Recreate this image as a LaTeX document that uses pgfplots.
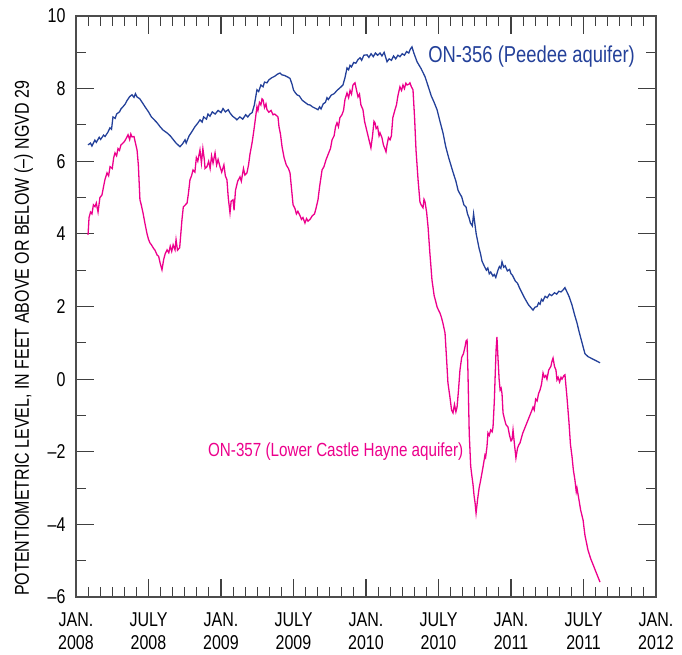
\documentclass[border=0pt]{standalone}
\usepackage{fontspec}
\setmainfont{Liberation Sans}[FakeStretch=0.8]
\usepackage{pgfplots}
\pgfplotsset{compat=1.18}
\usetikzlibrary{calc}
\definecolor{wellblue}{RGB}{35,64,153}
\definecolor{wellpink}{RGB}{236,0,140}
\begin{document}
\begin{tikzpicture}
\begin{axis}[
    scale only axis,
    width=580pt, height=581pt,
    xmin=2008, xmax=2012,
    ymin=-6, ymax=10,
    xtick={2008,2008.5,2009,2009.5,2010,2010.5,2011,2011.5,2012},
    xticklabels={{JAN.\\2008},{JULY\\2008},{JAN.\\2009},{JULY\\2009},{JAN.\\2010},{JULY\\2010},{JAN.\\2011},{JULY\\2011},{JAN.\\2012}},
    minor x tick num=5,
    ytick={-6,-4,...,10},
    yticklabels={–6,–4,–2,0,2,4,6,8,10},
    minor y tick num=1,
    tick align=inside,
    tick pos=both,
    ticklabel pos=left,
    major tick length=18pt,
    minor tick length=10pt,
    every tick/.style={black!75, line width=1.1pt},
    axis line style={black!70, line width=1.3pt},
    xticklabel style={align=center, font=\fontsize{20}{23}\selectfont, yshift=-12pt},
    yticklabel style={font=\fontsize{20}{24}\selectfont, xshift=-7pt},
    ylabel={POTENTIOMETRIC LEVEL, IN FEET ABOVE OR BELOW (–) NGVD 29},
    ylabel style={font=\fontsize{20}{24}\selectfont, at={(axis description cs:-0.068,0.445)}, anchor=south},
]
% ON-356 Peedee aquifer
\addplot[wellblue, line width=1.3pt] table {
2008.083 6.45
2008.10 6.50
2008.11 6.42
2008.13 6.58
2008.14 6.52
2008.16 6.66
2008.17 6.60
2008.19 6.72
2008.20 6.68
2008.22 6.80
2008.234 6.92
2008.245 6.88
2008.255 7.22
2008.27 7.18
2008.28 7.30
2008.30 7.36
2008.31 7.44
2008.324 7.50
2008.34 7.58
2008.35 7.66
2008.37 7.78
2008.386 7.83
2008.40 7.76
2008.41 7.86
2008.421 7.77
2008.44 7.72
2008.46 7.60
2008.476 7.50
2008.50 7.36
2008.52 7.22
2008.54 7.14
2008.559 7.06
2008.58 6.95
2008.60 6.86
2008.628 6.78
2008.65 6.70
2008.67 6.60
2008.69 6.50
2008.717 6.40
2008.735 6.48
2008.752 6.59
2008.76 6.50
2008.78 6.70
2008.80 6.82
2008.82 6.95
2008.84 7.05
2008.855 7.14
2008.87 7.08
2008.88 7.22
2008.90 7.16
2008.91 7.30
2008.924 7.24
2008.94 7.36
2008.96 7.30
2008.98 7.40
2009.00 7.34
2009.014 7.45
2009.03 7.36
2009.05 7.42
2009.062 7.33
2009.08 7.24
2009.10 7.18
2009.110 7.14
2009.13 7.22
2009.15 7.16
2009.17 7.28
2009.185 7.22
2009.20 7.30
2009.215 7.34
2009.23 7.55
2009.248 7.97
2009.26 7.92
2009.275 8.10
2009.29 8.05
2009.30 8.18
2009.317 8.16
2009.33 8.24
2009.35 8.30
2009.37 8.34
2009.39 8.40
2009.407 8.43
2009.42 8.38
2009.44 8.36
2009.46 8.32
2009.476 8.28
2009.49 8.12
2009.50 7.96
2009.51 7.90
2009.524 7.83
2009.54 7.80
2009.56 7.68
2009.58 7.62
2009.60 7.56
2009.614 7.55
2009.63 7.50
2009.65 7.46
2009.669 7.42
2009.68 7.50
2009.69 7.44
2009.705 7.58
2009.72 7.62
2009.731 7.75
2009.74 7.70
2009.76 7.82
2009.78 7.86
2009.80 7.95
2009.82 8.02
2009.841 8.10
2009.855 8.30
2009.869 8.57
2009.88 8.52
2009.89 8.64
2009.90 8.60
2009.915 8.72
2009.93 8.70
2009.945 8.80
2009.959 8.85
2009.97 8.78
2009.985 8.92
2010.007 8.93
2010.02 8.86
2010.035 8.96
2010.05 8.88
2010.065 8.98
2010.08 8.92
2010.097 8.98
2010.11 8.90
2010.125 9.00
2010.145 8.74
2010.16 8.82
2010.175 8.78
2010.19 8.90
2010.205 8.82
2010.22 8.92
2010.234 8.88
2010.25 8.96
2010.265 8.92
2010.28 9.02
2010.295 8.98
2010.305 9.08
2010.317 9.15
2010.33 8.98
2010.352 8.74
2010.38 8.55
2010.407 8.33
2010.43 8.05
2010.45 7.80
2010.47 7.62
2010.490 7.42
2010.51 7.10
2010.531 6.78
2010.55 6.40
2010.57 6.10
2010.60 5.70
2010.62 5.45
2010.635 5.20
2010.648 5.10
2010.66 5.02
2010.675 4.80
2010.69 4.74
2010.70 4.55
2010.71 4.45
2010.72 4.30
2010.733 4.22
2010.742 4.55
2010.75 4.30
2010.76 4.00
2010.78 3.60
2010.79 3.45
2010.80 3.25
2010.815 3.12
2010.83 3.00
2010.84 3.06
2010.85 2.90
2010.86 2.95
2010.875 2.84
2010.885 2.88
2010.895 2.80
2010.91 3.00
2010.92 3.10
2010.93 3.05
2010.938 3.23
2010.95 3.08
2010.96 3.12
2010.975 2.98
2010.99 3.02
2011.00 2.90
2011.01 2.86
2011.03 2.70
2011.045 2.64
2011.06 2.50
2011.09 2.26
2011.12 2.05
2011.152 1.90
2011.165 1.98
2011.18 2.00
2011.19 2.10
2011.20 2.06
2011.21 2.20
2011.22 2.15
2011.235 2.28
2011.25 2.24
2011.265 2.34
2011.28 2.30
2011.30 2.38
2011.315 2.34
2011.33 2.42
2011.345 2.40
2011.36 2.46
2011.372 2.52
2011.386 2.40
2011.40 2.28
2011.42 2.05
2011.44 1.75
2011.455 1.55
2011.47 1.30
2011.49 1.00
2011.50 0.85
2011.51 0.70
2011.531 0.62
2011.614 0.45
};
% ON-357 Lower Castle Hayne aquifer
\addplot[wellpink, line width=1.3pt] table {
2008.083 3.97
2008.090 4.45
2008.100 4.60
2008.110 4.55
2008.120 4.80
2008.131 4.75
2008.140 4.85
2008.152 4.60
2008.165 5.00
2008.179 5.07
2008.19 5.30
2008.20 5.50
2008.214 5.68
2008.225 5.60
2008.235 5.85
2008.25 5.80
2008.26 6.10
2008.269 6.23
2008.28 6.15
2008.29 6.35
2008.30 6.30
2008.31 6.45
2008.324 6.50
2008.335 6.55
2008.345 6.62
2008.359 6.73
2008.37 6.60
2008.378 6.75
2008.386 6.67
2008.40 6.68
2008.41 6.50
2008.421 6.31
2008.43 5.90
2008.441 4.94
2008.45 4.80
2008.462 4.58
2008.475 4.30
2008.49 4.00
2008.50 3.85
2008.510 3.75
2008.52 3.70
2008.535 3.60
2008.545 3.55
2008.559 3.42
2008.57 3.38
2008.58 3.20
2008.593 3.01
2008.605 3.30
2008.615 3.45
2008.628 3.56
2008.64 3.48
2008.65 3.66
2008.66 3.52
2008.67 3.70
2008.683 3.56
2008.69 3.84
2008.70 3.55
2008.715 3.62
2008.731 4.40
2008.74 4.74
2008.766 4.85
2008.775 5.10
2008.786 5.49
2008.797 5.60
2008.807 5.76
2008.82 5.70
2008.83 6.10
2008.84 6.00
2008.855 6.31
2008.865 5.95
2008.875 6.35
2008.885 6.05
2008.89 5.80
2008.903 5.85
2008.915 6.00
2008.925 5.80
2008.935 6.15
2008.945 5.95
2008.959 6.23
2008.97 5.90
2008.98 6.05
2008.993 5.85
2009.005 5.70
2009.02 5.90
2009.03 5.60
2009.041 5.49
2009.05 5.00
2009.062 4.58
2009.07 4.90
2009.083 4.94
2009.09 4.65
2009.10 5.20
2009.115 5.45
2009.131 5.57
2009.14 5.45
2009.155 5.80
2009.165 5.62
2009.179 5.68
2009.19 5.90
2009.20 6.20
2009.214 6.50
2009.225 6.80
2009.235 7.10
2009.248 7.50
2009.255 7.40
2009.265 7.62
2009.275 7.55
2009.283 7.72
2009.290 7.69
2009.30 7.48
2009.31 7.58
2009.317 7.42
2009.33 7.35
2009.345 7.40
2009.359 7.28
2009.37 7.30
2009.385 7.25
2009.393 7.22
2009.40 6.95
2009.41 6.75
2009.421 6.40
2009.435 6.10
2009.45 5.90
2009.465 5.80
2009.476 5.68
2009.485 5.30
2009.497 4.80
2009.51 4.70
2009.52 4.55
2009.53 4.62
2009.545 4.50
2009.555 4.40
2009.565 4.45
2009.579 4.30
2009.59 4.42
2009.60 4.35
2009.614 4.40
2009.63 4.50
2009.645 4.55
2009.655 4.70
2009.669 4.94
2009.68 5.30
2009.697 5.76
2009.71 5.85
2009.725 6.05
2009.74 6.20
2009.755 6.35
2009.766 6.59
2009.78 6.70
2009.79 6.95
2009.80 7.06
2009.81 6.95
2009.82 7.20
2009.834 7.28
2009.845 7.40
2009.855 7.70
2009.869 7.88
2009.88 7.75
2009.89 7.95
2009.90 7.85
2009.91 8.10
2009.924 8.16
2009.935 7.95
2009.945 7.77
2009.955 7.85
2009.965 7.55
2009.979 7.42
2009.99 7.10
2010.005 6.85
2010.02 6.60
2010.034 6.37
2010.045 6.70
2010.055 7.10
2010.062 7.06
2010.07 6.90
2010.08 6.95
2010.09 6.70
2010.097 6.78
2010.11 6.65
2010.12 6.45
2010.13 6.35
2010.138 6.26
2010.145 6.45
2010.155 6.65
2010.166 6.59
2010.175 6.70
2010.185 7.20
2010.2 7.42
2010.21 7.55
2010.22 7.80
2010.234 8.05
2010.245 7.95
2010.255 8.10
2010.265 8.00
2010.275 8.15
2010.283 8.10
2010.295 8.12
2010.303 8.16
2010.313 8.05
2010.324 7.97
2010.335 7.20
2010.345 6.30
2010.359 5.49
2010.372 4.88
2010.380 4.80
2010.393 4.72
2010.400 4.95
2010.407 4.88
2010.418 4.60
2010.428 4.19
2010.44 3.50
2010.455 2.73
2010.47 2.30
2010.48 2.15
2010.490 1.99
2010.50 1.90
2010.510 1.82
2010.52 1.70
2010.53 1.55
2010.545 1.27
2010.555 0.60
2010.565 -0.10
2010.579 -0.50
2010.59 -0.85
2010.6 -0.93
2010.61 -0.70
2010.62 -0.90
2010.628 -0.77
2010.638 -0.30
2010.648 0.25
2010.66 0.60
2010.672 0.70
2010.683 0.89
2010.69 1.05
2010.697 1.08
2010.703 0.20
2010.712 -1.50
2010.722 -2.40
2010.731 -2.69
2010.738 -2.90
2010.745 -3.20
2010.752 -3.40
2010.759 -3.69
2010.77 -3.30
2010.78 -3.00
2010.79 -2.80
2010.80 -2.58
2010.81 -2.35
2010.82 -2.10
2010.825 -2.15
2010.834 -1.87
2010.841 -1.48
2010.85 -1.55
2010.86 -1.40
2010.87 -1.45
2010.876 -1.32
2010.885 -0.60
2010.890 0.00
2010.897 0.80
2010.903 1.16
2010.91 0.60
2010.918 0.00
2010.925 -0.30
2010.932 -0.25
2010.938 -0.40
2010.945 -0.93
2010.955 -1.10
2010.965 -1.25
2010.979 -1.32
2010.99 -1.55
2011.000 -1.70
2011.007 -1.67
2011.014 -1.40
2011.024 -1.80
2011.034 -2.17
2011.045 -1.90
2011.055 -1.80
2011.062 -1.76
2011.08 -1.50
2011.10 -1.30
2011.12 -1.10
2011.14 -0.90
2011.152 -0.77
2011.16 -0.85
2011.17 -0.55
2011.18 -0.60
2011.19 -0.40
2011.2 -0.30
2011.21 -0.15
2011.221 0.17
2011.23 0.05
2011.24 0.10
2011.248 0.00
2011.26 0.25
2011.275 0.35
2011.283 0.50
2011.290 0.58
2011.30 0.35
2011.31 0.25
2011.317 -0.02
2011.325 0.05
2011.335 -0.08
2011.345 0.05
2011.352 0.00
2011.365 0.10
2011.372 0.12
2011.386 -0.50
2011.40 -1.20
2011.41 -1.80
2011.421 -2.14
2011.43 -2.50
2011.441 -2.78
2011.45 -3.10
2011.455 -3.00
2011.469 -3.33
2011.48 -3.60
2011.497 -3.88
2011.51 -4.30
2011.531 -4.71
2011.55 -4.95
2011.614 -5.59
};
\node[anchor=west, inner sep=0pt, text=wellblue, font=\fontsize{23}{27}\selectfont] at (axis cs:2010.428,8.88) {ON-356 (Peedee aquifer)};
\node[anchor=west, inner sep=0pt, text=wellpink, font=\fontsize{19}{23}\selectfont] at (axis cs:2008.910,-2.0) {ON-357 (Lower Castle Hayne aquifer)};
\end{axis}
\pgfresetboundingbox
\path[use as bounding box] ($(current axis.south west)+(-76pt,-57pt)$) rectangle ($(current axis.north east)+(26pt,16pt)$);
\end{tikzpicture}
\end{document}
